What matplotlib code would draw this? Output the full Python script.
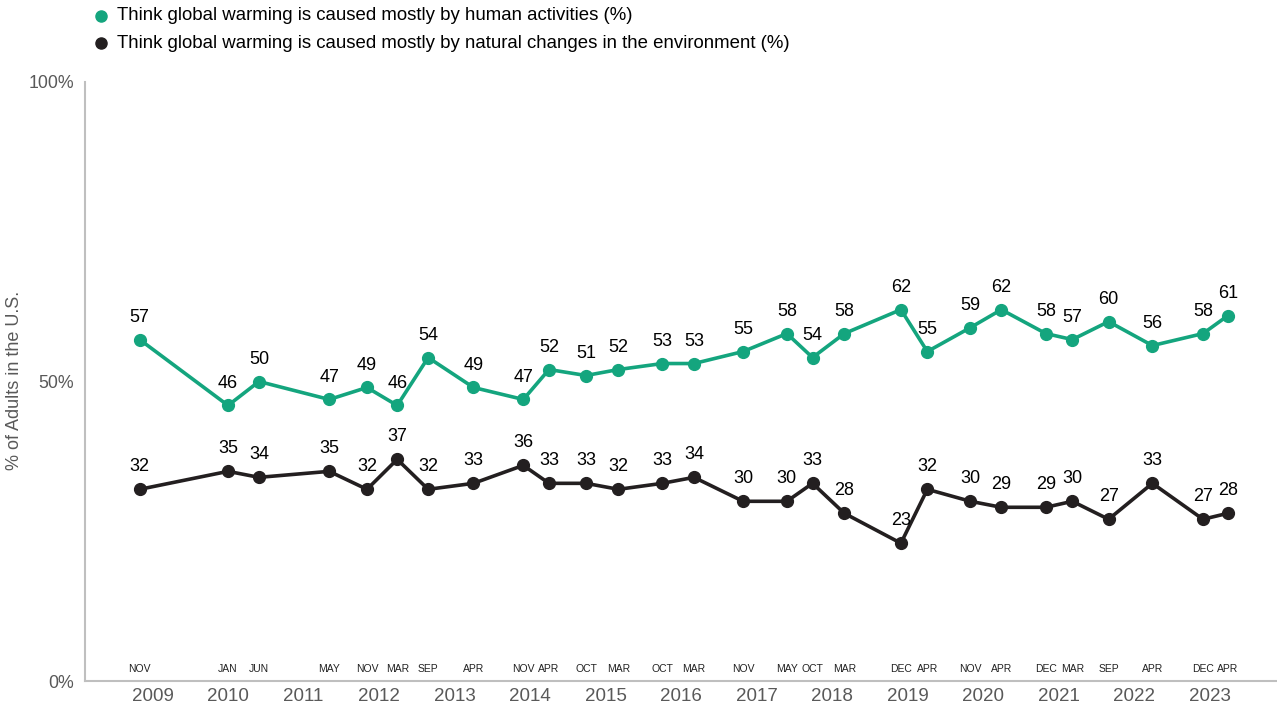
import matplotlib
matplotlib.use("Agg")
import matplotlib.pyplot as plt
from matplotlib.lines import Line2D

plt.rcParams["font.family"] = ["Liberation Sans", "DejaVu Sans"]

# survey waves as decimal years and their month labels
wave_dates = [2008.83, 2010.00, 2010.41, 2011.34, 2011.84, 2012.24, 2012.65, 2013.25,
              2013.91, 2014.25, 2014.74, 2015.17, 2015.75, 2016.17, 2016.82, 2017.40,
              2017.74, 2018.16, 2018.91, 2019.26, 2019.83, 2020.24, 2020.83, 2021.18,
              2021.66, 2022.24, 2022.91, 2023.24]
month_labels = ["NOV", "JAN", "JUN", "MAY", "NOV", "MAR", "SEP", "APR", "NOV", "APR",
                "OCT", "MAR", "OCT", "MAR", "NOV", "MAY", "OCT", "MAR", "DEC", "APR",
                "NOV", "APR", "DEC", "MAR", "SEP", "APR", "DEC", "APR"]
human = [57, 46, 50, 47, 49, 46, 54, 49, 47, 52, 51, 52, 53, 53, 55, 58, 54, 58,
         62, 55, 59, 62, 58, 57, 60, 56, 58, 61]
natural = [32, 35, 34, 35, 32, 37, 32, 33, 36, 33, 33, 32, 33, 34, 30, 30, 33, 28,
           23, 32, 30, 29, 29, 30, 27, 33, 27, 28]
years = list(range(2009, 2024))
series_names = ["Think global warming is caused mostly by human activities (%)",
                "Think global warming is caused mostly by natural changes in the environment (%)"]

GREEN = "#14a57e"
BLACK = "#231f20"
GREY = "#595959"
W, H = 1277, 713

fig = plt.figure(figsize=(W / 100, H / 100), dpi=100)
ax = fig.add_axes([85 / W, 1 - 681 / H, 1 - 85 / W, (681 - 82) / H])

for vals, col in [(human, GREEN), (natural, BLACK)]:
    ax.plot(wave_dates, vals, color=col, lw=2.6, marker="o", ms=8.5, zorder=3)
    for xi, v in zip(wave_dates, vals):
        ax.annotate(str(v), (xi, v), xytext=(0, 10), textcoords="offset points",
                    ha="center", va="bottom", fontsize=13, color="black")

for xi, lab in zip(wave_dates, month_labels):
    ax.annotate(lab, (xi, 0), xycoords=("data", "axes fraction"), xytext=(0, 8.5),
                textcoords="offset points", ha="center", va="center",
                fontsize=7.5, color="#222222")

ax.set_xlim(2008.106, 2023.89)
ax.set_ylim(0, 100)
ax.set_xticks(years)
ax.set_xticklabels([str(y) for y in years])
ax.set_yticks([0, 50, 100])
ax.set_yticklabels(["0%", "50%", "100%"])
ax.tick_params(axis="x", length=0, pad=5, labelsize=13.5, labelcolor=GREY)
ax.tick_params(axis="y", length=0, pad=8, labelsize=12.8, labelcolor=GREY)
fig.text(15 / W, 1 - 380 / H, "% of Adults in the U.S.", rotation=90,
         ha="center", va="center", fontsize=13, color=GREY)

for s in ["top", "right"]:
    ax.spines[s].set_visible(False)
for s in ["left", "bottom"]:
    ax.spines[s].set_color("#bfbfbf")
    ax.spines[s].set_linewidth(1.5)

# legend drawn by hand to match placement
for yy, col, name in [(16, GREEN, series_names[0]), (43, BLACK, series_names[1])]:
    fig.add_artist(Line2D([101 / W], [1 - yy / H], ls="", marker="o", ms=8,
                          color=col, transform=fig.transFigure))
    fig.text(117 / W, 1 - yy / H, name, ha="left", va="center",
             fontsize=13.4, color="black")

fig.savefig("out.png", dpi=100)
